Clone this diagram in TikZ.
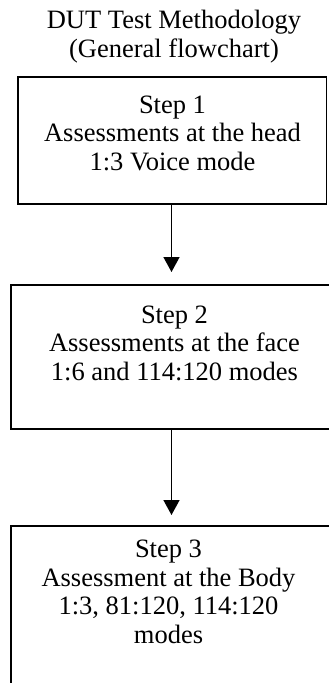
\documentclass[tikz,border=0pt]{standalone}
\usepackage{fontspec}
\setmainfont{Liberation Serif}
\usetikzlibrary{arrows.meta}
\begin{document}
\begin{tikzpicture}[x=1pt,y=-1pt,
  box/.style={draw=black, line width=1.7pt, fill=none},
  txt/.style={align=center, inner sep=0pt, font=\fontsize{26.5}{28.5}\selectfont},
  conn/.style={line width=1.5pt, -{Triangle[length=15pt,width=16pt]}}]
\useasboundingbox (0,0) rectangle (329,683);
\fill[white] (0,0) rectangle (329,683);
\begin{scope}
\clip (0,0) rectangle (329,683);
\node[txt, anchor=base] (title) at (174,57) {DUT Test Methodology\\(General flowchart)};
\node[box, minimum width=308.5pt, minimum height=127pt, inner sep=0pt] (b1) at (172.25,140.5) {};
\node[box, minimum width=329pt, minimum height=144pt, inner sep=0pt] (b2) at (175.5,357) {};
\node[box, minimum width=329pt, minimum height=200pt, inner sep=0pt] (b3) at (175.5,626) {};
\node[txt, anchor=base] (t1) at (172.5,170) {Step 1\\Assessments at the head\\1:3 Voice mode};
\node[txt, anchor=base] (t2) at (174.5,380) {Step 2\\Assessments at the face\\1:6 and 114:120 modes};
\node[txt, anchor=base] (t3) at (168.5,643) {Step 3\\Assessment at the Body\\1:3, 81:120, 114:120\\modes};
\coordinate (a1s) at (171.5,204);
\coordinate (a1e) at (171.5,272);
\coordinate (a2s) at (171.5,429);
\coordinate (a2e) at (171.5,515);
\draw[conn] (b1.south -| a1s) -- (a1e);
\draw[conn] (b2.south -| a2s) -- (a2e);
\end{scope}
\end{tikzpicture}
\end{document}
